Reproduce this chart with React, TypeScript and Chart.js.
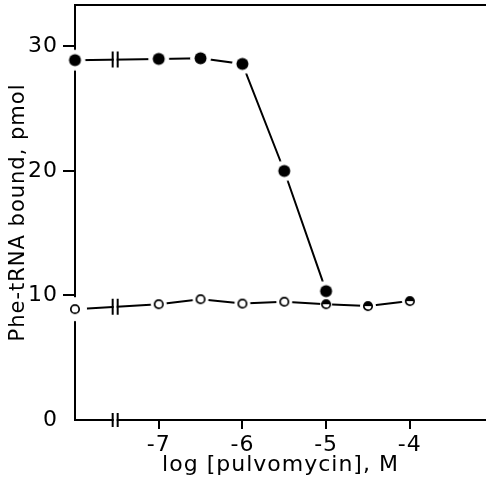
import { useEffect, useRef } from 'react';
import { Chart, registerables } from 'chart.js';

Chart.register(...registerables);

// ---- data ----
const xFilled = [-8, -7, -6.5, -6, -5.5, -5];
const yFilled = [28.9, 29.0, 29.05, 28.6, 20.0, 10.35];
const xOpen = [-8, -7, -6.5, -6, -5.5, -5, -4.5, -4];
const yOpen = [8.9, 9.3, 9.7, 9.35, 9.5, 9.3, 9.15, 9.55];
const openKinds = ['open', 'open', 'open', 'open', 'open', 'half', 'half', 'half'];
const xTicks = [-7, -6, -5, -4];
const xTickLabels = ['-7', '-6', '-5', '-4'];
const yTicks = [0, 10, 20, 30];
const yTickLabels = ['0', '10', '20', '30'];
const xTitle = 'log [pulvomycin], M';
const yTitle = 'Phe-tRNA bound, pmol';
const X_MIN = -8;
const X_MAX = -3.09;
const Y_MIN = 0;
const Y_MAX = 33.33;
const BREAK_X = -7.52;

const FONT = "'DejaVu Sans', 'Liberation Sans', Arial, sans-serif";

function marker(kind: string, ring: number): HTMLCanvasElement {
  const s = Math.ceil(ring * 2 + 2);
  const c = document.createElement('canvas');
  c.width = s;
  c.height = s;
  const g = c.getContext('2d')!;
  const m = s / 2;
  g.fillStyle = '#fff';
  g.beginPath();
  g.arc(m, m, ring, 0, Math.PI * 2);
  g.fill();
  if (kind === 'filled') {
    g.fillStyle = '#000';
    g.beginPath();
    g.arc(m, m, 6, 0, Math.PI * 2);
    g.fill();
  } else {
    if (kind === 'half') {
      g.fillStyle = '#000';
      g.beginPath();
      g.arc(m, m, 4.2, Math.PI, Math.PI * 2);
      g.closePath();
      g.fill();
    }
    g.strokeStyle = '#000';
    g.lineWidth = 1.7;
    g.beginPath();
    g.arc(m, m, 4.2, 0, Math.PI * 2);
    g.stroke();
  }
  return c;
}

const spacingPlugin = {
  id: 'spacing',
  beforeUpdate(chart: any) {
    chart.ctx.letterSpacing = '1px';
  },
  beforeDraw(chart: any) {
    chart.ctx.letterSpacing = '1px';
  },
};

const framePlugin = {
  id: 'frame',
  beforeDatasetsDraw(chart: any) {
    const { ctx, chartArea } = chart;
    ctx.save();
    ctx.strokeStyle = '#000';
    ctx.lineWidth = 2;
    ctx.beginPath();
    ctx.moveTo(chartArea.left - 1, chartArea.top);
    ctx.lineTo(chartArea.right, chartArea.top);
    ctx.stroke();
    ctx.restore();
  },
};

const breakPlugin = {
  id: 'breaks',
  afterDatasetsDraw(chart: any) {
    const { ctx, chartArea } = chart;
    const xs = chart.scales.x;
    const ys = chart.scales.y;
    const bx = xs.getPixelForValue(BREAK_X);
    const half = 2.5;
    const drawBreak = (cy: number, h: number) => {
      ctx.save();
      ctx.fillStyle = '#fff';
      ctx.fillRect(bx - half + 1, cy - 3, 2 * half - 2, 6);
      ctx.strokeStyle = '#000';
      ctx.lineWidth = 2;
      ctx.beginPath();
      ctx.moveTo(bx - half, cy - h / 2);
      ctx.lineTo(bx - half, cy + h / 2);
      ctx.moveTo(bx + half, cy - h / 2);
      ctx.lineTo(bx + half, cy + h / 2);
      ctx.stroke();
      ctx.restore();
    };
    const series: [number[], number[]][] = [
      [xFilled, yFilled],
      [xOpen, yOpen],
    ];
    series.forEach(([sx, sy]) => {
      const t = (BREAK_X - sx[0]) / (sx[1] - sx[0]);
      const v = sy[0] + t * (sy[1] - sy[0]);
      drawBreak(ys.getPixelForValue(v), 16);
    });
    drawBreak(chartArea.bottom, 14);
  },
};

export default function App() {
  const ref = useRef<HTMLCanvasElement | null>(null);

  useEffect(() => {
    if (!ref.current) return;
    Chart.defaults.font.family = FONT;
    Chart.defaults.color = '#000';

    const filledImgs = xFilled.map(() => marker('filled', 10.5));
    const openImgs = openKinds.map((k, i) =>
      marker(k, i === 0 ? 12 : i === 5 ? 6 : 8)
    );

    const chart = new Chart(ref.current, {
      type: 'line',
      data: {
        datasets: [
          {
            label: 'open',
            data: xOpen.map((x, i) => ({ x, y: yOpen[i] })),
            borderColor: '#000',
            borderWidth: 2,
            pointStyle: openImgs as any,
            pointRadius: 5,
            clip: false as any,
            tension: 0,
          },
          {
            label: 'filled',
            data: xFilled.map((x, i) => ({ x, y: yFilled[i] })),
            borderColor: '#000',
            borderWidth: 2,
            pointStyle: filledImgs as any,
            pointRadius: 6,
            clip: false as any,
            tension: 0,
          },
        ],
      },
      options: {
        responsive: false,
        animation: false,
        devicePixelRatio: 1,
        layout: {
          autoPadding: false,
          padding: { top: 5, left: 0, right: 0, bottom: 0 },
        },
        plugins: {
          legend: { display: false },
          tooltip: { enabled: false },
        },
        scales: {
          x: {
            type: 'linear',
            position: 'bottom',
            min: X_MIN,
            max: X_MAX,
            afterFit: (s: any) => {
              s.height = 62;
              s.paddingLeft = 0;
              s.paddingRight = 0;
            },
            afterBuildTicks: (s: any) => {
              s.ticks = xTicks.map((v) => ({ value: v }));
            },
            ticks: {
              autoSkip: false,
              maxRotation: 0,
              padding: 3,
              font: { size: 22 },
              color: '#000',
              callback: (_v: any, i: number) => xTickLabels[i],
            },
            grid: {
              display: true,
              drawOnChartArea: false,
              drawTicks: true,
              tickLength: 9,
              color: '#000',
              lineWidth: 2,
            },
            border: { display: true, color: '#000', width: 2 },
            title: {
              display: true,
              text: xTitle,
              font: { size: 22 },
              color: '#000',
              padding: { top: 0, bottom: 4 },
            },
          },
          y: {
            type: 'linear',
            min: Y_MIN,
            max: Y_MAX,
            afterFit: (s: any) => {
              s.width = 75;
              s.paddingTop = 0;
              s.paddingBottom = 0;
            },
            afterBuildTicks: (s: any) => {
              s.ticks = yTicks.map((v) => ({ value: v }));
            },
            ticks: {
              autoSkip: false,
              padding: 5,
              font: { size: 22 },
              color: '#000',
              callback: (_v: any, i: number) => yTickLabels[i],
            },
            grid: {
              display: true,
              drawOnChartArea: false,
              drawTicks: true,
              tickLength: 12,
              color: (c: any) =>
                c.tick && c.tick.value === 0 ? 'rgba(0,0,0,0)' : '#000',
              lineWidth: 2,
            },
            border: { display: true, color: '#000', width: 2 },
            title: {
              display: true,
              text: yTitle,
              font: { size: 21 },
              color: '#000',
              padding: { top: 6, bottom: 0 },
            },
          },
        },
      },
      plugins: [spacingPlugin, framePlugin, breakPlugin],
    });

    return () => chart.destroy();
  }, []);

  return (
    <canvas
      ref={ref}
      width={486}
      height={482}
      style={{ position: 'absolute', left: 0, top: 0, display: 'block' }}
    />
  );
}
